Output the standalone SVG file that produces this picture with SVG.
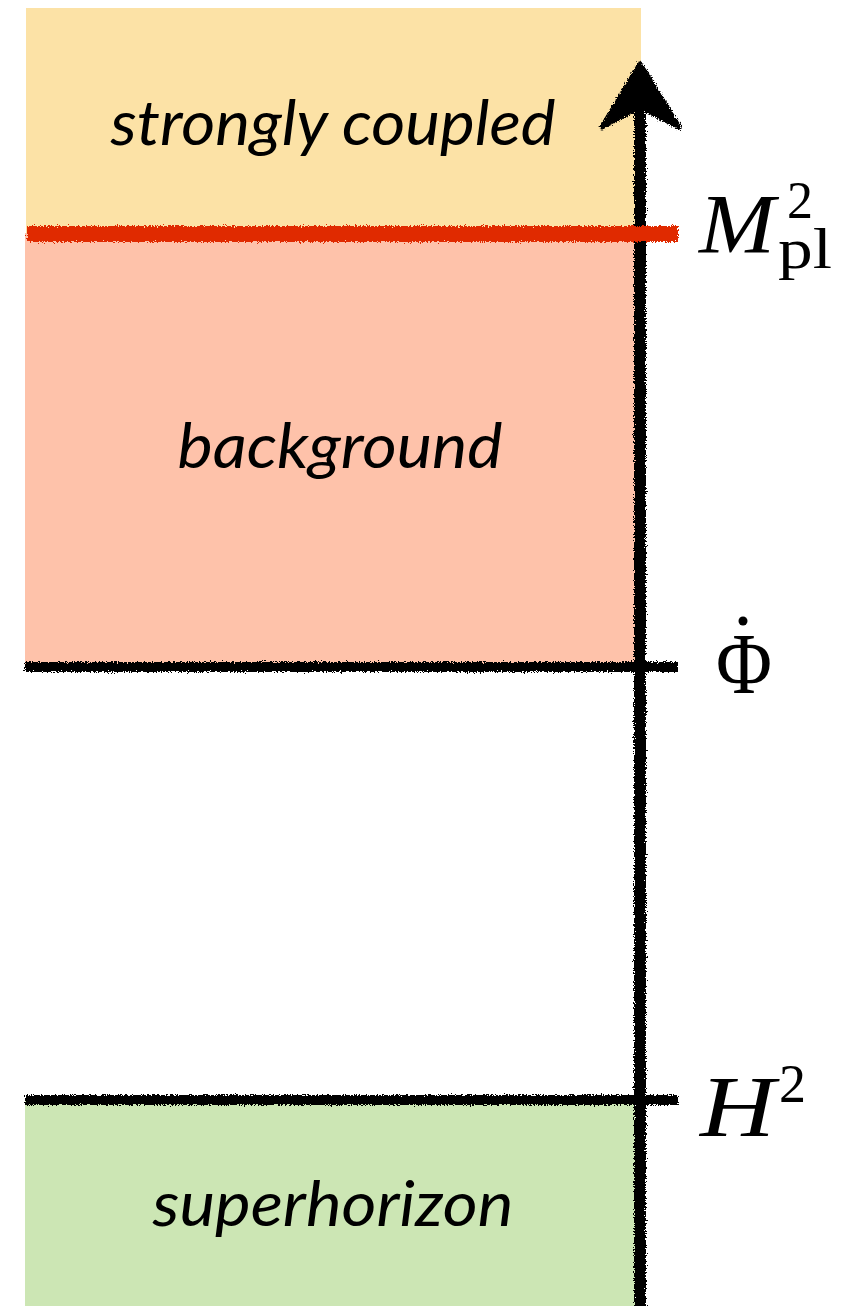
<svg xmlns="http://www.w3.org/2000/svg" width="864" height="1306" viewBox="0 0 864 1306">
<defs>
<style>
.region-label{font-family:Lato,"Open Sans","Liberation Sans",sans-serif;font-style:italic;font-size:62px;fill:#000;text-anchor:middle}
.math{font-family:"Liberation Serif","DejaVu Serif",serif;fill:#000}
.rough{filter:url(#chalk)}
.axis{stroke:#000;stroke-width:12;fill:none}
.tick{stroke:#000;stroke-width:10;fill:none}
</style>
<filter id="chalk" x="-5%" y="-5%" width="110%" height="110%">
<feTurbulence type="fractalNoise" baseFrequency="0.7" numOctaves="2" seed="3" result="n"/>
<feDisplacementMap in="SourceGraphic" in2="n" scale="6" xChannelSelector="R" yChannelSelector="G"/>
</filter>
</defs>
<rect width="864" height="1306" fill="#fff"/>
<g id="strongly-coupled">
<rect x="26" y="8" width="615" height="225" fill="#FCE2A6"/>
<text class="region-label" x="333" y="145" textLength="445" lengthAdjust="spacingAndGlyphs">strongly coupled</text>
</g>
<g id="background">
<rect x="25" y="233" width="612" height="432" fill="#FEC2AA"/>
<text class="region-label" x="340" y="468" textLength="325" lengthAdjust="spacingAndGlyphs">background</text>
</g>
<g id="superhorizon">
<rect x="25" y="1101" width="610" height="205" fill="#CCE6B4"/>
<text class="region-label" x="333" y="1226" textLength="361" lengthAdjust="spacingAndGlyphs">superhorizon</text>
</g>
<g id="connectors" class="rough">
<line class="axis" x1="640" y1="95" x2="640" y2="1310"/>
<path d="M640 64 L679 127 L646 110 L634 110 L602 127 Z" fill="#000" stroke="#000" stroke-width="5" stroke-linejoin="round"/>
<line x1="27" y1="234" x2="678" y2="234" stroke="#E02A00" stroke-width="16"/>
<line class="tick" x1="25" y1="667" x2="678" y2="667"/>
<line class="tick" x1="25" y1="1100" x2="678" y2="1100"/>
</g>
<g id="label-mpl">
<text class="math" x="699" y="253" font-size="85" font-style="italic" textLength="76" lengthAdjust="spacingAndGlyphs">M</text>
<text class="math" x="787" y="218" font-size="52">2</text>
<text class="math" x="778" y="268" font-size="58" textLength="54" lengthAdjust="spacingAndGlyphs">pl</text>
</g>
<g id="label-phidot">
<text class="math" x="716" y="693" font-size="86" textLength="56" lengthAdjust="spacingAndGlyphs">Φ</text>
<circle cx="743" cy="621" r="4.5" fill="#000"/>
</g>
<g id="label-h2">
<text class="math" x="700" y="1136" font-size="86" font-style="italic" textLength="75" lengthAdjust="spacingAndGlyphs">H</text>
<text class="math" x="779" y="1102" font-size="54">2</text>
</g>
</svg>
